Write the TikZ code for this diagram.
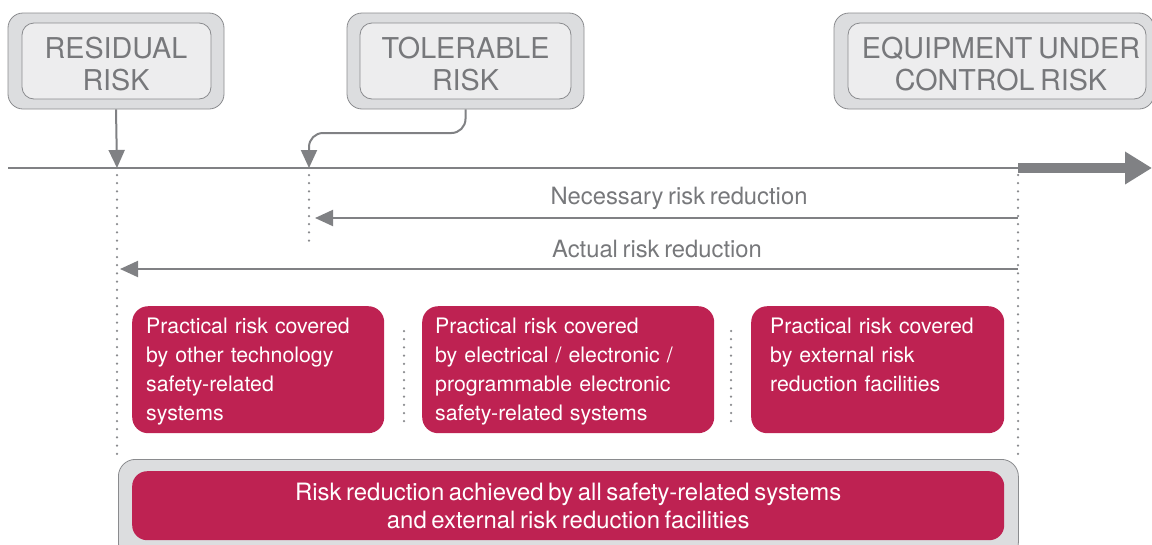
\documentclass[tikz,border=0pt]{standalone}
\usepackage{fontspec}
\setmainfont{TeX Gyre Heros}[WordSpace=0.7]
\usetikzlibrary{arrows.meta}
\definecolor{linegray}{HTML}{808184}
\definecolor{dotgray}{HTML}{8A8B8E}
\definecolor{boxout}{HTML}{DCDDDF}
\definecolor{boxin}{HTML}{EDEDEE}
\definecolor{boxline}{HTML}{8A8B8E}
\definecolor{txtgray}{HTML}{77787B}
\definecolor{crimson}{HTML}{BE2252}
\newcommand{\toprule}{\rule{0pt}{20pt}}
\begin{document}
\begin{tikzpicture}[x=1pt,y=-1pt,
  outerbox/.style={draw=boxline, line width=0.8pt, fill=boxout, rounded corners=15pt, inner sep=0pt},
  innerbox/.style={draw=boxline, line width=0.8pt, fill=boxin, rounded corners=12pt, inner sep=0pt},
  titletext/.style={text=txtgray, align=center, inner sep=0pt, font=\fontsize{28.7}{32}\selectfont},
  axisline/.style={draw=linegray, line width=2pt},
  conn/.style={draw=linegray, line width=2pt, -{Triangle[length=18pt,width=16pt]}},
  dotline/.style={draw=dotgray, line width=2.5pt, line cap=round, dash pattern=on 0pt off 8.2pt},
  label/.style={text=txtgray, inner sep=0pt, font=\fontsize{23.8}{28}\selectfont},
  redbox/.style={fill=crimson, rounded corners=16pt, text=white, align=left, anchor=north west,
    font=\fontsize{21.3}{29}\selectfont, minimum height=127pt},
]
\useasboundingbox (0,0) rectangle (1152,544);
\clip (0,0) rectangle (1152,544);

% title boxes
\node[outerbox, minimum width=216pt, minimum height=96pt] (resO) at (116,61) {};
\node[innerbox, minimum width=189pt, minimum height=76pt] (resI) at (116.5,61) {};
\node[titletext] (resT) at (116,64) {RESIDUAL\\RISK};

\node[outerbox, minimum width=237pt, minimum height=96pt] (tolO) at (465.5,61) {};
\node[innerbox, minimum width=211pt, minimum height=76pt] (tolI) at (465.5,61) {};
\node[titletext] (tolT) at (465.5,64) {TOLERABLE\\RISK};

\node[outerbox, minimum width=320pt, minimum height=96pt] (eucO) at (994,61) {};
\node[innerbox, minimum width=298pt, minimum height=76pt] (eucI) at (997,61) {};
\node[titletext] (eucT) at (1001,64) {EQUIPMENT UNDER\\CONTROL RISK};

% axis
\coordinate (axL) at (8,168);
\coordinate (resP) at (117,168);
\coordinate (tolP) at (309,168);
\coordinate (eucP) at (1018,168);
\coordinate (axR) at (1152,168);
\draw[axisline] (axL) -- (eucP);
\draw[draw=linegray, line width=10pt, -{Triangle[length=27pt,width=31pt]}] (eucP) -- (axR);

% arrows from title boxes
\draw[conn] (resO.south) -- (resP);
\draw[conn, rounded corners=14pt] (tolO.south) |- (390,133) -| (tolP);

% dotted guides
\coordinate (d1a) at (117,175); \coordinate (d1b) at (117,455);
\coordinate (d2a) at (309,175); \coordinate (d2b) at (309,243);
\coordinate (d3a) at (1018,175); \coordinate (d3b) at (1018,455);
\coordinate (d4a) at (404,331); \coordinate (d4b) at (404,423);
\coordinate (d5a) at (731,331); \coordinate (d5b) at (731,423);
\draw[dotline] (d1a) -- (d1b);
\draw[dotline] (d2a) -- (d2b);
\draw[dotline] (d3a) -- (d3b);
\draw[dotline] (d4a) -- (d4b);
\draw[dotline] (d5a) -- (d5b);

% reduction arrows
\node[label] (nrl) at (679,198) {Necessary risk reduction};
\coordinate (nrS) at (1018,218); \coordinate (nrE) at (315,218);
\draw[conn] (nrS) -- (nrE);
\node[label] (arl) at (657,249) {Actual risk reduction};
\coordinate (arS) at (1018,269); \coordinate (arE) at (120,269);
\draw[conn] (arS) -- (arE);

% red boxes
\node[redbox, minimum width=252pt, text width=224pt, inner xsep=14pt] (b1) at (132,306)
  {\toprule Practical risk covered\\by other technology\\safety-related\\systems};
\node[redbox, minimum width=292pt, text width=266pt, inner xsep=13pt] (b2) at (422,306)
  {\toprule Practical risk covered\\by electrical / electronic /\\programmable electronic\\safety-related systems};
\node[redbox, minimum width=253pt, text width=215pt, inner xsep=19pt] (b3) at (751,306)
  {\toprule Practical risk covered\\by external risk\\reduction facilities\\\vphantom{y}};

% bottom box
\node[outerbox, rounded corners=17pt, minimum width=900pt, minimum height=100pt, anchor=north west] (botO) at (118,459) {};
\node[fill=crimson, rounded corners=15pt, minimum width=872pt, minimum height=69pt, anchor=north west,
  text=white, align=center, font=\fontsize{23.9}{28}\selectfont] (botI) at (132,471)
  {Risk reduction achieved by all safety-related systems\\and external risk reduction facilities};
\end{tikzpicture}
\end{document}
